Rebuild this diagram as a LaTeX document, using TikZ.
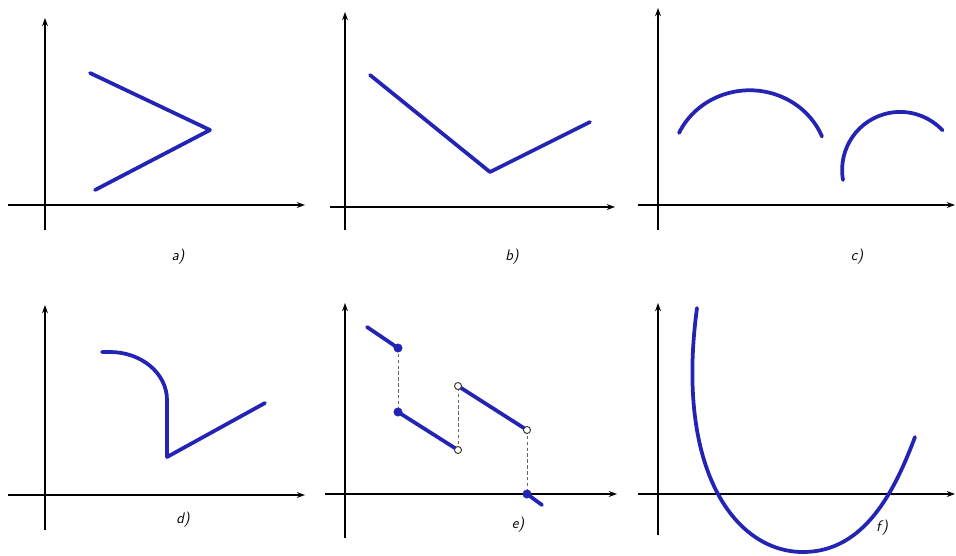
\documentclass[tikz,border=0pt]{standalone}
\usetikzlibrary{arrows.meta}
\definecolor{curveblue}{RGB}{36,36,180}
\tikzset{
  axis/.style={line width=0.9pt, -{Stealth[length=7pt,width=5pt]}},
  graph/.style={line width=3.2pt, curveblue, line cap=round, line join=round},
  jump/.style={densely dashed, line width=0.5pt, black!60},
  fulldot/.style={fill=curveblue, draw=curveblue},
  opendot/.style={fill=white, draw=black!80, line width=0.8pt},
  caption/.style={font=\sffamily\itshape\fontsize{13}{15}\selectfont}
}
\begin{document}
\begin{tikzpicture}[x=0.03cm, y=0.03cm]
  \useasboundingbox (0,0) rectangle (956,-555);
  % axes of the six panels
  \foreach \ax/\ay/\xl/\xr/\yb/\yt in {
      45/205/8/305/230/18,
      345/207/330/615/230/12,
      658/205/638/955/230/8,
      45/495/8/305/530/305,
      345/494/325/617/538/303,
      658/494/638/955/535/303} {
    \draw[axis] (\xl,-\ay) -- (\xr,-\ay);
    \draw[axis] (\ax,-\yb) -- (\ax,-\yt);
  }
  % a)
  \draw[graph] (90,-73) -- (210,-130) -- (95,-190);
  \node[caption] (capa) at (178,-257) {a)};
  % b)
  \draw[graph] (370,-75) -- (490,-172) -- (590,-122);
  \node[caption] (capb) at (512,-257) {b)};
  % c)
  \draw[graph] (679,-133) arc[start angle=155, end angle=22, x radius=78, y radius=74];
  \draw[graph] (843,-180) arc[start angle=190, end angle=43, radius=58];
  \node[caption] (capc) at (857,-257) {c)};
  % d)
  \draw[graph] (102,-352) -- (110,-352)
    arc[start angle=90, end angle=0, x radius=57, y radius=48]
    -- (167,-457) -- (265,-403);
  \node[caption] (capd) at (183,-520) {d)};
  % e)
  \draw[jump] (398,-348) -- (398,-412);
  \draw[jump] (458,-450) -- (458,-386);
  \draw[jump] (527,-430) -- (527,-494);
  \draw[graph] (367,-327) -- (398,-348);
  \draw[graph] (398,-412) -- (458,-450);
  \draw[graph] (458,-386) -- (527,-430);
  \draw[graph] (527,-494) -- (542,-505);
  \fill[fulldot] (398,-348) circle (3.6pt);
  \fill[fulldot] (398,-412) circle (3.6pt);
  \fill[fulldot] (527,-494) circle (3.6pt);
  \draw[opendot] (458,-450) circle (3pt);
  \draw[opendot] (458,-386) circle (3pt);
  \draw[opendot] (527,-430) circle (3pt);
  \node[caption] (cape) at (518,-525) {e)};
  % f)
  \draw[graph] (697,-308) .. controls (675,-470) and (735,-552) .. (803,-552)
    .. controls (865,-552) and (895,-490) .. (915,-437);
  \node[caption] (capf) at (882,-528) {f)};
\end{tikzpicture}
\end{document}
